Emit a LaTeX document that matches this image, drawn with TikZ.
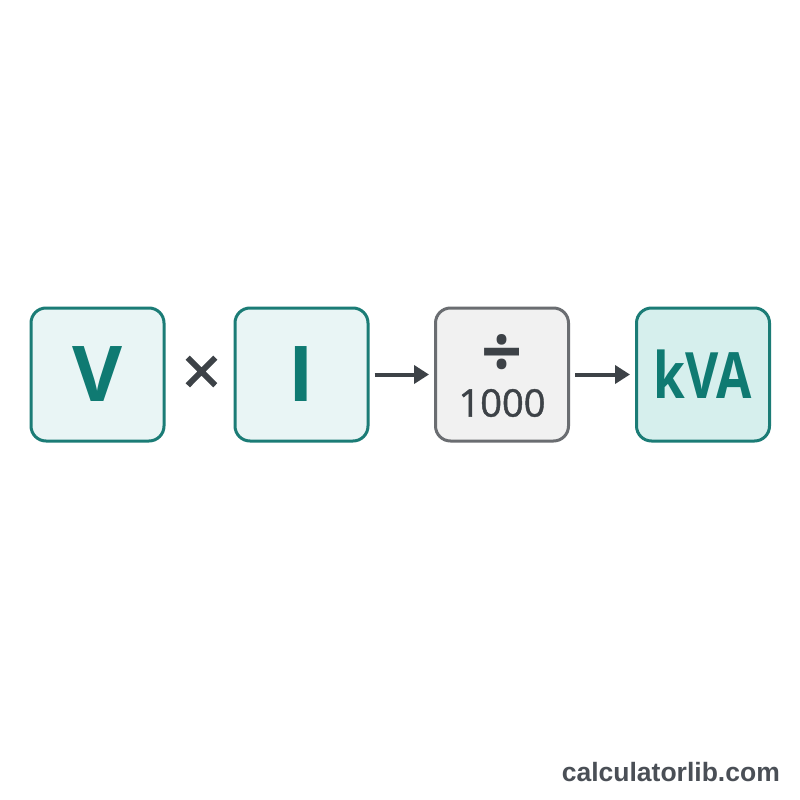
\documentclass[tikz,border=0pt]{standalone}
\usepackage{fontspec}
\setsansfont{Open Sans}
\newfontfamily\narrowsans{Open Sans}[FakeStretch=0.8]
\newfontfamily\sitefont{Liberation Sans}
\usetikzlibrary{arrows.meta}
\definecolor{tealline}{HTML}{1B7C76}
\definecolor{tealtext}{HTML}{0F7A72}
\definecolor{tealfill}{HTML}{E9F5F5}
\definecolor{kvafill}{HTML}{D6EFED}
\definecolor{greyline}{HTML}{6A6D71}
\definecolor{greyfill}{HTML}{F1F1F1}
\definecolor{darkgrey}{HTML}{3D4247}
\definecolor{sitegrey}{HTML}{4A4F56}
\newcommand{\arw}{-{Triangle[length=15pt,width=18pt]}}

\begin{document}
\begin{tikzpicture}[x=1pt,y=-1pt,
  box/.style={draw=tealline,fill=tealfill,line width=3pt,rounded corners=15pt,
    minimum width=133pt,minimum height=133pt,inner sep=0pt,text=tealtext,
    font=\sffamily\bfseries\fontsize{77}{80}\selectfont},
  opbox/.style={box,draw=greyline,fill=greyfill},
  optext/.style={text=darkgrey,inner sep=0pt,font=\sffamily\fontsize{38}{40}\selectfont\addfontfeatures{FakeBold=1.2}},
  arrowline/.style={\arw,draw=darkgrey,line width=4pt,shorten <=5pt,shorten >=5pt}]
\useasboundingbox[fill=white] (0,0) rectangle (800,800);
% operands
\node[box] (volt) at (97.5,374.5) {V};
\node[box] (amp) at (301.5,374.5) {I};
\node[text=darkgrey,inner sep=0pt,font=\sffamily\fontsize{68}{68}\selectfont\addfontfeatures{FakeBold=1.8}] (times) at (201.5,376) {×};
% divide by 1000
\node[opbox] (div) at (502,374.5) {};
\node[optext,font=\sffamily\bfseries\fontsize{72}{72}\selectfont] (divsign) at (502,356) {÷};
\node[optext] (thousand) at (502,403) {1000};
% result
\node[box,fill=kvafill,font=\narrowsans\bfseries\fontsize{64}{66}\selectfont] (kva) at (703,374.5) {kVA};
\draw[arrowline] (amp) -- (div);
\draw[arrowline] (div) -- (kva);
\node[anchor=east,inner sep=0pt,text=sitegrey,font=\sitefont\bfseries\fontsize{26.5}{28}\selectfont] (site) at (780,772) {calculatorlib.com};
\end{tikzpicture}
\end{document}
